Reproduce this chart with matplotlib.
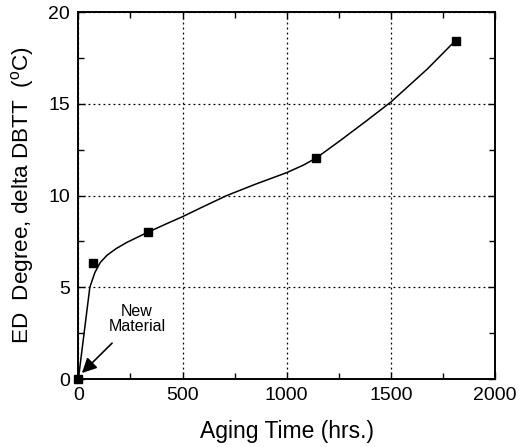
import matplotlib
matplotlib.use('Agg')
import matplotlib.pyplot as plt
from matplotlib.ticker import MultipleLocator

plt.rcParams['font.family'] = ['Liberation Sans', 'DejaVu Sans']
plt.rcParams['mathtext.fontset'] = 'custom'
plt.rcParams['mathtext.rm'] = 'Liberation Sans'

# measured points (squares)
aging_hrs = [0, 70, 333, 1142, 1810]
delta_dbtt = [0.0, 6.35, 8.0, 12.05, 18.45]

# fitted curve
curve_hrs = [0, 55, 79, 105, 137, 180, 233, 333, 440, 500, 600, 712, 850,
             1000, 1080, 1142, 1257, 1380, 1500, 1675, 1810]
curve_dbtt = [0.0, 5.0, 5.8, 6.35, 6.74, 7.1, 7.45, 8.0, 8.55, 8.85, 9.4,
              10.0, 10.62, 11.25, 11.66, 12.05, 13.0, 14.05, 15.1, 16.9, 18.45]

fig = plt.figure(figsize=(5.19, 4.47), dpi=100)
ax = fig.add_axes([0.151, 0.152, 0.803, 0.821])

ax.plot(curve_hrs, curve_dbtt, color='black', lw=1.1, zorder=3)
ax.plot(aging_hrs, delta_dbtt, linestyle='none', marker='s', ms=5.5,
        color='black', clip_on=False, zorder=4)

ax.set_xlim(0, 2000)
ax.set_ylim(0, 20)
ax.xaxis.set_major_locator(MultipleLocator(500))
ax.xaxis.set_minor_locator(MultipleLocator(250))
ax.yaxis.set_major_locator(MultipleLocator(5))
ax.yaxis.set_minor_locator(MultipleLocator(2.5))
ax.tick_params(which='both', direction='in', top=True, right=True,
               width=1.0, labelsize=14, color='black')
ax.tick_params(which='major', length=5, pad=6)
ax.tick_params(which='minor', length=4)
ax.grid(True, which='major', linestyle=(0, (1.5, 2.5)), color='black', lw=0.9)
for s in ax.spines.values():
    s.set_linewidth(1.4)

ax.set_xlabel('Aging Time (hrs.)', fontsize=16.5, labelpad=11)
ax.set_ylabel(r'ED  Degree, delta DBTT  ($^{\rm o}$C)', fontsize=16.2, labelpad=9)

ax.annotate('New\nMaterial', xy=(17, 0.33), xytext=(281, 3.3),
            ha='center', va='center', fontsize=11.5, linespacing=1.0,
            arrowprops=dict(arrowstyle='-|>', mutation_scale=22, lw=1.2,
                            color='black', shrinkA=7, shrinkB=0))

plt.savefig('out.png', dpi=100)
plt.close()
